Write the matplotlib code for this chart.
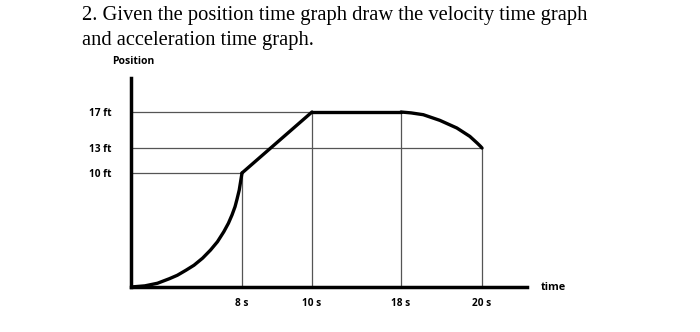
import numpy as np
import matplotlib
matplotlib.use("Agg")
import matplotlib.pyplot as plt

# Punkte (Zeit in s, Position in ft)
t_accel = [0, 1, 1.91, 2.77, 3.34, 3.96, 4.54, 5.16, 5.73, 6.23, 6.69, 7.02,
           7.28, 7.5, 7.64, 7.8, 7.9, 8]
x_accel = [0, 0.1, 0.33, 0.73, 1.03, 1.47, 1.91, 2.53, 3.24, 3.97, 4.85, 5.59,
           6.32, 7.05, 7.7, 8.5, 9.25, 10]
t_const = [8, 10]
x_const = [10, 17]
t_rest = [10, 18]
x_rest = [17, 17]
t_decel = [18, 18.25, 18.55, 18.96, 19.38, 19.7, 19.88, 19.96, 20]
x_decel = [17, 16.9, 16.7, 16.07, 15.22, 14.29, 13.55, 13.2, 13]

time_ticks = [8, 10, 18, 20]
time_labels = ["8 s", "10 s", "18 s", "20 s"]
pos_ticks = [10, 13, 17]
pos_labels = ["10 ft", "13 ft", "17 ft"]

# Hilfslinien: (Position, Ende auf der Zeitachse) bzw. (Zeit, Höhe)
h_guides = [(17, 18), (13, 20), (10, 8)]
v_guides = [(8, 10), (10, 17), (18, 17), (20, 13)]

# die Zeichnung ist nicht maßstabsgetreu -> stückweise lineare Skalen
tk_t = [0, 8, 10, 18, 20, 22]
tk_px = [0, 111, 181, 270, 351, 396]
pk_x = [0, 10, 13, 17, 20.5]
pk_px = [0, 114, 139, 175, 209]

fig = plt.figure(figsize=(7, 3.32), dpi=100)
ax = fig.add_axes([131 / 700, 45 / 332, 396 / 700, 209 / 332])

ax.set_xscale("function", functions=(lambda v: np.interp(v, tk_t, tk_px),
                                     lambda v: np.interp(v, tk_px, tk_t)))
ax.set_yscale("function", functions=(lambda v: np.interp(v, pk_x, pk_px),
                                     lambda v: np.interp(v, pk_px, pk_x)))
ax.set_xlim(0, 22)
ax.set_ylim(0, 20.5)

guide = dict(color="#555555", lw=0.9, zorder=1)
for y, x_end in h_guides:
    ax.plot([0, x_end], [y, y], **guide)
for x, y_end in v_guides:
    ax.plot([x, x], [0, y_end], **guide)

thick = dict(color="black", lw=2.4, solid_capstyle="round",
             solid_joinstyle="round", zorder=3)
ax.plot(t_accel, x_accel, **thick)
ax.plot(t_const, x_const, **thick)
ax.plot(t_rest, x_rest, **thick)
ax.plot(t_decel, x_decel, **thick)

for s in ["top", "right"]:
    ax.spines[s].set_visible(False)
for s in ["left", "bottom"]:
    ax.spines[s].set_linewidth(2.5)
    ax.spines[s].set_color("black")

tick_font = dict(family="Open Sans", weight="bold", size=7.3)
ax.set_xticks(time_ticks)
ax.set_xticklabels(time_labels, **tick_font)
ax.set_yticks(pos_ticks)
ax.set_yticklabels(pos_labels, **tick_font)
ax.tick_params(axis="both", length=0)
ax.tick_params(axis="x", pad=8)
ax.tick_params(axis="y", pad=14)
ax.minorticks_off()

fig.text(133 / 700, 1 - 62 / 332, "Position", ha="center", va="center",
         family="Open Sans", weight="bold", size=7.5)
fig.text(541 / 700, 1 - 287 / 332, "time", ha="left", va="center",
         family="Open Sans", weight="bold", size=7.8)

title_font = dict(family="Liberation Serif", size=14.8, ha="left", va="baseline")
fig.text(82 / 700, 1 - 20 / 332,
         "2. Given the position time graph draw the velocity time graph", **title_font)
fig.text(82 / 700, 1 - 45 / 332, "and acceleration time graph.", **title_font)

fig.savefig("out.png", dpi=100, facecolor="white")
